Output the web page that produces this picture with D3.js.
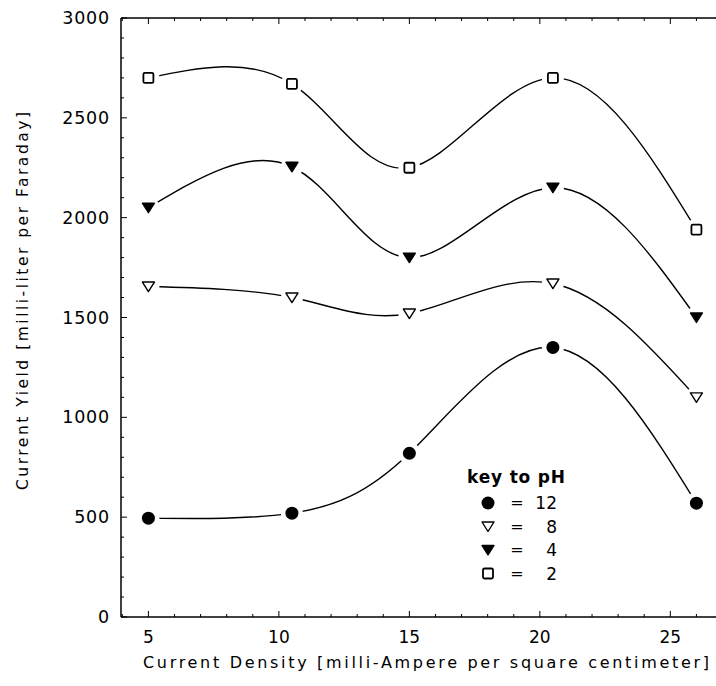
<!DOCTYPE html>
<html><head><meta charset="utf-8">
<script src="https://cdn.jsdelivr.net/npm/d3@7"></script>
<style>body{margin:0;background:#fff}svg{display:block}</style>
</head><body>
<svg id="c" width="716" height="686"></svg>
<script>
const densities = [5, 10.5, 15, 20.5, 26];
const pH12 = [495, 520, 820, 1350, 570];
const pH8 = [1655, 1600, 1520, 1670, 1100];
const pH4 = [2050, 2255, 1800, 2150, 1500];
const pH2 = [2700, 2670, 2250, 2700, 1940];
const seriesNames = ["12", "8", "4", "2"];
const seriesMarkers = ["circle", "triangleOpen", "triangleFilled", "square"];
const xTicks = [5, 10, 15, 20, 25];
const yTicks = [0, 500, 1000, 1500, 2000, 2500, 3000];

const series = [pH12, pH8, pH4, pH2].map((v, i) => ({name: seriesNames[i], marker: seriesMarkers[i], values: v}));

const svg = d3.select("#c");
const x = d3.scaleLinear().domain([3.95, 26.75]).range([121, 716]);
const y = d3.scaleLinear().domain([0, 3000]).range([617, 18]);
const font = "'DejaVu Sans', sans-serif";

// axes frame
const g = svg.append("g");
g.append("line").attr("x1", x.range()[0]).attr("x2", 716).attr("y1", y(0)).attr("y2", y(0)).attr("stroke", "#000").attr("stroke-width", 1.5);
g.append("line").attr("x1", x.range()[0]).attr("x2", 716).attr("y1", y(3000)).attr("y2", y(3000)).attr("stroke", "#000").attr("stroke-width", 1.5);
g.append("line").attr("x1", x.range()[0]).attr("x2", x.range()[0]).attr("y1", y(0)).attr("y2", y(3000)).attr("stroke", "#000").attr("stroke-width", 1.5);

// x ticks (major & minor), inside, both top and bottom
const xMinor = d3.range(4, 27, 1);
xMinor.forEach(v => {
  const major = xTicks.includes(v);
  const L = major ? 6 : 3;
  g.append("line").attr("x1", x(v)).attr("x2", x(v)).attr("y1", y(0)).attr("y2", y(0) - L).attr("stroke", "#000").attr("stroke-width", 1);
  g.append("line").attr("x1", x(v)).attr("x2", x(v)).attr("y1", y(3000)).attr("y2", y(3000) + L).attr("stroke", "#000").attr("stroke-width", 1);
});
const yMinor = d3.range(0, 3001, 100);
yMinor.forEach(v => {
  const major = yTicks.includes(v);
  const L = major ? 6 : 3;
  g.append("line").attr("x1", x.range()[0]).attr("x2", x.range()[0] + L).attr("y1", y(v)).attr("y2", y(v)).attr("stroke", "#000").attr("stroke-width", 1);
});

// tick labels
g.selectAll(".xt").data(xTicks).join("text")
  .attr("x", d => x(d)).attr("y", 643).attr("text-anchor", "middle")
  .attr("font-family", font).attr("font-size", 17).text(d => d);
g.selectAll(".yt").data(yTicks).join("text")
  .attr("x", 110).attr("y", d => y(d) + 6).attr("text-anchor", "end")
  .attr("font-family", font).attr("font-size", 17.5).attr("letter-spacing", 0.8).text(d => d);

// axis titles
svg.append("text").attr("x", 426).attr("y", 668).attr("text-anchor", "middle")
  .attr("font-family", font).attr("font-size", 16)
  .attr("textLength", 566).attr("lengthAdjust", "spacing")
  .text("Current Density [milli-Ampere per square centimeter]");
svg.append("text").attr("transform", "translate(28,301) rotate(-90)").attr("text-anchor", "middle")
  .attr("font-family", font).attr("font-size", 15.5)
  .attr("textLength", 378).attr("lengthAdjust", "spacing")
  .text("Current Yield [milli-liter per Faraday]");

// curves
const line = d3.line().x(d => x(d[0])).y(d => y(d[1])).curve(d3.curveNatural);
series.forEach(s => {
  const pts = densities.map((d, i) => [d, s.values[i]]);
  svg.append("path").attr("d", line(pts)).attr("fill", "none").attr("stroke", "#000").attr("stroke-width", 1.4);
});
// gaps around markers
series.forEach(s => {
  svg.append("g").selectAll("circle").data(densities.map((d, i) => [d, s.values[i]])).join("circle")
    .attr("cx", d => x(d[0])).attr("cy", d => y(d[1])).attr("r", 11).attr("fill", "#fff");
});

function drawMarker(sel, type, cx, cy) {
  if (type === "circle") {
    sel.append("circle").attr("cx", cx).attr("cy", cy).attr("r", 6.5).attr("fill", "#000");
  } else if (type === "square") {
    sel.append("rect").attr("x", cx - 5).attr("y", cy - 5).attr("width", 10).attr("height", 10).attr("rx", 1.5)
      .attr("fill", "#fff").attr("stroke", "#000").attr("stroke-width", 1.8);
  } else {
    const filled = type === "triangleFilled";
    const p = `M${cx - 6},${cy - 4.5}L${cx + 6},${cy - 4.5}L${cx},${cy + 5}Z`;
    sel.append("path").attr("d", p).attr("fill", filled ? "#000" : "#fff").attr("stroke", "#000").attr("stroke-width", 1.4).attr("stroke-linejoin", "round");
  }
}
series.forEach(s => {
  const gg = svg.append("g");
  densities.forEach((d, i) => drawMarker(gg, s.marker, x(d), y(s.values[i])));
});

// legend
const lg = svg.append("g");
lg.append("text").attr("x", 467).attr("y", 483).attr("font-family", font).attr("font-size", 17).attr("font-weight", "bold")
  .attr("textLength", 98).attr("lengthAdjust", "spacing").text("key to pH");
series.forEach((s, i) => {
  const cy = 503 + i * 23.5;
  drawMarker(lg, s.marker, 488, cy);
  lg.append("text").attr("x", 517).attr("y", cy + 5).attr("text-anchor", "middle").attr("font-family", font).attr("font-size", 16).text("=");
  lg.append("text").attr("x", 557).attr("y", cy + 6).attr("text-anchor", "end").attr("font-family", font).attr("font-size", 17).text(s.name);
});
</script>
</body></html>
